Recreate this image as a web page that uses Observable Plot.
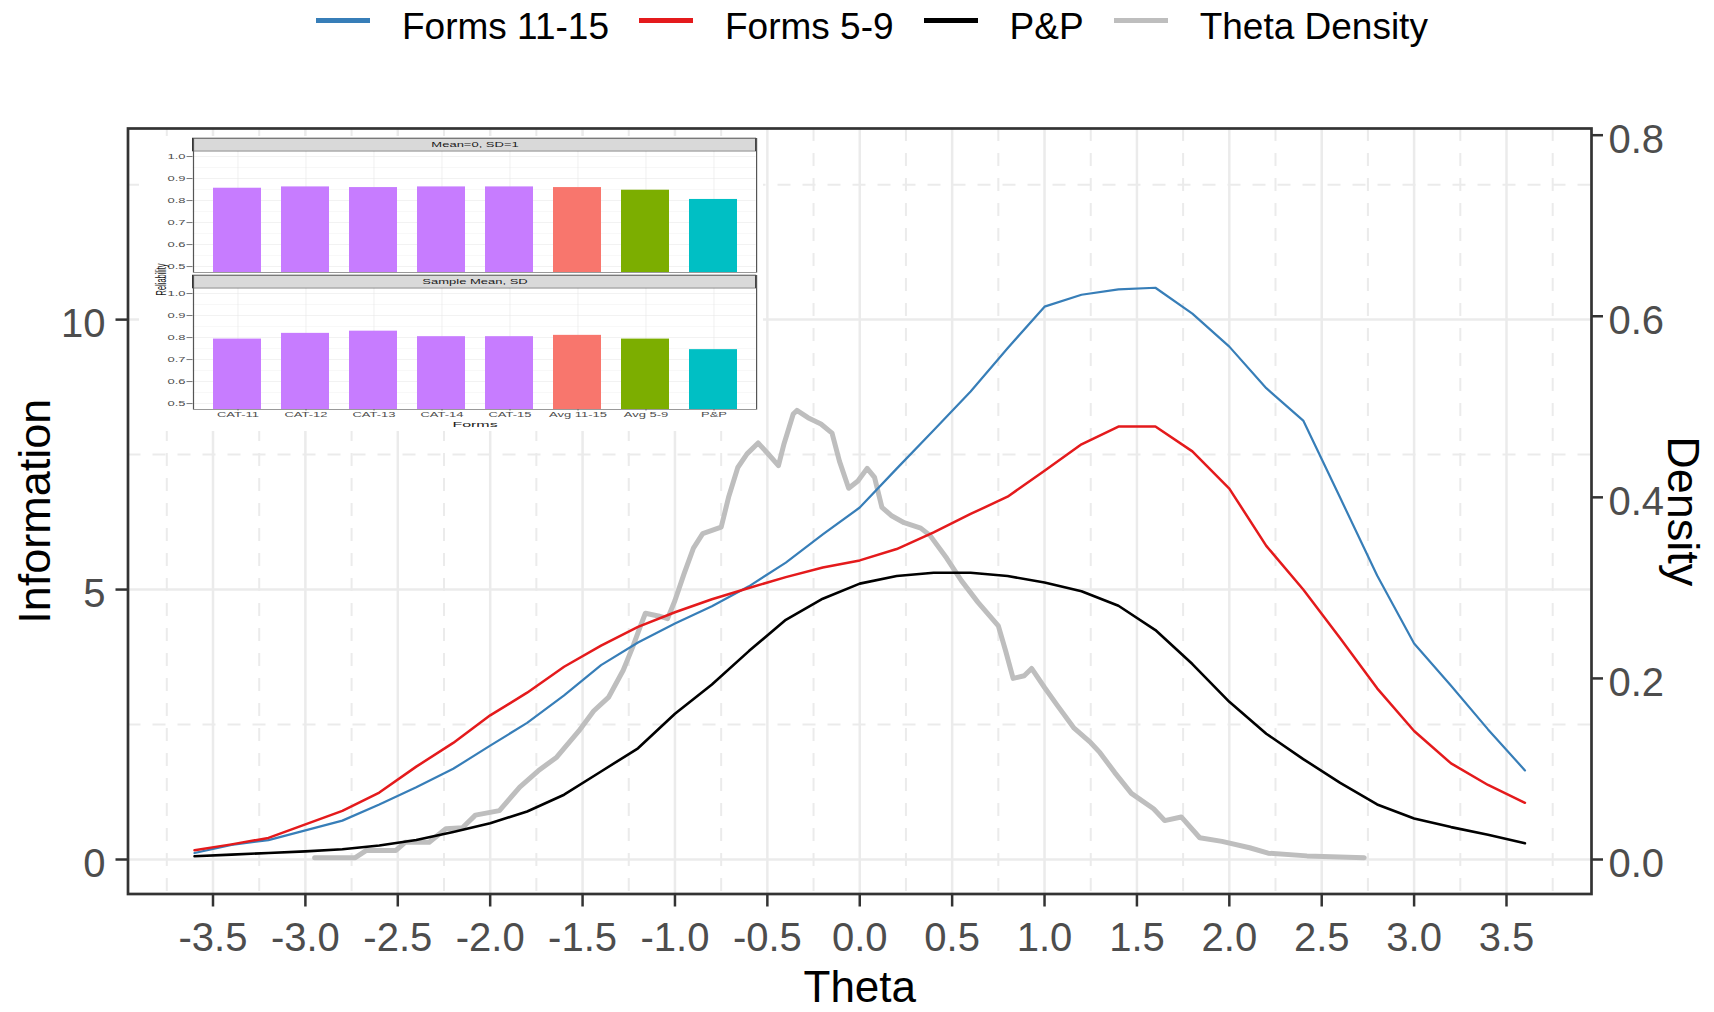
<!DOCTYPE html>
<html>
<head>
<meta charset="utf-8">
<script src="https://cdn.jsdelivr.net/npm/d3@7"></script>
<script src="https://cdn.jsdelivr.net/npm/@observablehq/plot@0.6"></script>
<style>
  body { margin: 0; background: #fff; font-family: "Liberation Sans", Arial, sans-serif; }
  #wrap { position: relative; width: 1714px; height: 1012px; overflow: hidden; background: #fff; }
  #legend { position: absolute; left: 316px; top: 7.6px; display: flex; align-items: flex-start; font-size: 37px; line-height: 37px; color: #000; white-space: nowrap; }
  #legend .sw { width: 54px; height: 5px; margin-top: 10.5px; margin-right: 32px; }
  #legend .lab { margin-right: 30px; }
  #main { position: absolute; left: 0; top: 80px; }
  #inset { position: absolute; left: 139px; top: 136px; width: 311.5px; height: 295px; background: #fff; transform: scaleX(2); transform-origin: 0 0; }
  #inset svg { display: block; }
</style>
</head>
<body>
<div id="wrap">
  <div id="legend"></div>
  <div id="main"></div>
  <div id="inset"></div>
</div>
<script>
// ---------------- data ----------------
const seriesNames = ["Forms 11-15", "Forms 5-9", "P&P", "Theta Density"];
const seriesColors = ["#377EB8", "#E41A1C", "#000000", "#BEBEBE"];

const theta = [-3.6,-3.4,-3.2,-3.0,-2.8,-2.6,-2.4,-2.2,-2.0,-1.8,-1.6,-1.4,-1.2,-1.0,-0.8,-0.6,-0.4,-0.2,0.0,
               0.2,0.4,0.6,0.8,1.0,1.2,1.4,1.6,1.8,2.0,2.2,2.4,2.6,2.8,3.0,3.2,3.4,3.6];
const forms1115 = [0.12,0.27,0.36,0.54,0.72,1.02,1.34,1.68,2.11,2.53,3.04,3.60,4.02,4.37,4.69,5.06,5.50,6.02,6.52,
                   7.24,7.95,8.67,9.47,10.24,10.46,10.56,10.59,10.11,9.50,8.73,8.13,6.70,5.26,4.00,3.22,2.41,1.65];
const forms59   = [0.17,0.28,0.40,0.65,0.90,1.24,1.72,2.16,2.67,3.09,3.57,3.96,4.31,4.58,4.82,5.03,5.23,5.41,5.54,
                   5.75,6.06,6.40,6.72,7.20,7.69,8.02,8.02,7.56,6.87,5.81,5.00,4.10,3.17,2.38,1.78,1.38,1.05];
const pp        = [0.06,0.09,0.12,0.15,0.19,0.26,0.36,0.51,0.67,0.89,1.20,1.63,2.06,2.70,3.24,3.86,4.44,4.83,5.11,
                   5.25,5.31,5.31,5.25,5.13,4.97,4.70,4.25,3.62,2.92,2.33,1.86,1.42,1.02,0.76,0.60,0.46,0.30];

const densTheta = [-2.95,-2.73,-2.67,-2.51,-2.46,-2.33,-2.24,-2.15,-2.08,-1.95,-1.84,-1.74,-1.64,-1.52,-1.44,-1.36,
                   -1.28,-1.23,-1.19,-1.16,-1.09,-1.04,-1.00,-0.95,-0.90,-0.85,-0.75,-0.71,-0.66,-0.61,-0.55,-0.50,
                   -0.44,-0.41,-0.36,-0.34,-0.28,-0.21,-0.15,-0.11,-0.06,-0.01,0.04,0.08,0.12,0.17,0.24,0.33,0.38,
                   0.47,0.55,0.64,0.75,0.79,0.83,0.89,0.93,1.00,1.07,1.16,1.25,1.30,1.38,1.47,1.59,1.65,1.74,1.84,
                   1.96,2.11,2.21,2.42,2.73];
const densValue = [0.002,0.002,0.010,0.010,0.019,0.019,0.034,0.035,0.049,0.054,0.080,0.098,0.113,0.142,0.164,0.179,
                   0.209,0.234,0.256,0.272,0.269,0.266,0.286,0.316,0.344,0.360,0.367,0.400,0.433,0.448,0.460,0.449,
                   0.435,0.459,0.492,0.496,0.488,0.481,0.471,0.440,0.410,0.418,0.432,0.422,0.389,0.380,0.372,0.366,0.358,
                   0.333,0.308,0.284,0.258,0.230,0.200,0.203,0.211,0.190,0.170,0.145,0.129,0.118,0.096,0.073,0.056,0.043,0.047,0.024,
                   0.020,0.013,0.007,0.004,0.002];

const DENS_TO_INFO = 16.77;   // secondary axis: Information units per Density unit

const xTicks = [-3.5,-3.0,-2.5,-2.0,-1.5,-1.0,-0.5,0.0,0.5,1.0,1.5,2.0,2.5,3.0,3.5];
const xMinor = [-3.75,-3.25,-2.75,-2.25,-1.75,-1.25,-0.75,-0.25,0.25,0.75,1.25,1.75,2.25,2.75,3.25,3.75];
const infoTicks = [0, 5, 10];
const infoMinor = [2.5, 7.5, 12.5];
const densTicks = [0.0, 0.2, 0.4, 0.6, 0.8];

// inset (reliability bar chart)
const forms = ["CAT-11","CAT-12","CAT-13","CAT-14","CAT-15","Avg 11-15","Avg 5-9","P&P"];
const formGroup = ["CAT","CAT","CAT","CAT","CAT","Avg 11-15","Avg 5-9","P&P"];
const groups = ["CAT","Avg 11-15","Avg 5-9","P&P"];
const groupColors = ["#C77CFF","#F8766D","#7CAE00","#00BFC4"];
const panelTitles = ["Mean=0, SD=1", "Sample Mean, SD"];
const relMean0  = [0.856,0.862,0.859,0.862,0.862,0.859,0.847,0.805];
const relSample = [0.793,0.819,0.829,0.804,0.804,0.810,0.793,0.745];
const relTicks = [0.5,0.6,0.7,0.8,0.9,1.0];
const relMinor = [0.55,0.65,0.75,0.85,0.95];

const FONT = "'Liberation Sans', Arial, Helvetica, sans-serif";

// ---------------- legend ----------------
const legend = document.getElementById("legend");
seriesNames.forEach((name, i) => {
  const sw = document.createElement("div");
  sw.className = "sw"; sw.style.background = seriesColors[i];
  const lab = document.createElement("div");
  lab.className = "lab"; lab.textContent = name;
  legend.appendChild(sw); legend.appendChild(lab);
});

// ---------------- main chart ----------------
const infoRows = [];
[forms1115, forms59, pp].forEach((vals, s) => {
  theta.forEach((t, i) => infoRows.push({theta: t, info: vals[i], series: seriesNames[s]}));
});
const densRows = densTheta.map((t, i) => ({theta: t, density: densValue[i]}));

const main = Plot.plot({
  width: 1714,
  height: 932,
  marginLeft: 127.5,
  marginRight: 123,
  marginTop: 48,
  marginBottom: 118.5,
  x: {domain: [-3.96, 3.96]},
  y: {domain: [-0.639, 13.54]},
  style: {fontFamily: FONT, background: "transparent", overflow: "visible"},
  marks: [
    Plot.ruleX(xMinor, {stroke: "#EBEBEB", strokeWidth: 2, strokeDasharray: "13,12"}),
    Plot.ruleY(infoMinor, {stroke: "#EBEBEB", strokeWidth: 2, strokeDasharray: "13,12"}),
    Plot.ruleX(xTicks, {stroke: "#EBEBEB", strokeWidth: 2.5}),
    Plot.ruleY(infoTicks, {stroke: "#EBEBEB", strokeWidth: 2.5}),
    Plot.line(densRows, {x: "theta", y: d => d.density * DENS_TO_INFO, stroke: seriesColors[3], strokeWidth: 5, strokeLinejoin: "round"}),
    Plot.line(infoRows.filter(d => d.series === seriesNames[0]), {x: "theta", y: "info", stroke: seriesColors[0], strokeWidth: 2.2}),
    Plot.line(infoRows.filter(d => d.series === seriesNames[1]), {x: "theta", y: "info", stroke: seriesColors[1], strokeWidth: 2.5}),
    Plot.line(infoRows.filter(d => d.series === seriesNames[2]), {x: "theta", y: "info", stroke: seriesColors[2], strokeWidth: 2.6}),
    Plot.frame({stroke: "#333333", strokeWidth: 2.7}),
    // ticks
    Plot.axisX(xTicks, {tickSize: 13, tickFormat: () => "", color: "#333333", strokeWidth: 2.5, label: null}),
    Plot.axisY(infoTicks, {anchor: "left", tickSize: 12, tickFormat: () => "", color: "#333333", strokeWidth: 2.5, label: null}),
    Plot.axisY(densTicks.map(d => d * DENS_TO_INFO), {anchor: "right", tickSize: 11, tickFormat: () => "", color: "#333333", strokeWidth: 2.5, label: null}),
    // tick labels
    Plot.axisX(xTicks, {tickSize: 0, tickPadding: 28.5, tickFormat: d => d.toFixed(1), fontSize: 40, color: "#4D4D4D", label: null}),
    Plot.axisY(infoTicks, {anchor: "left", tickSize: 0, tickPadding: 22.5, tickFormat: d => String(d), fontSize: 40, color: "#4D4D4D", dy: 5, label: null}),
    Plot.axisY(densTicks.map(d => d * DENS_TO_INFO), {anchor: "right", tickSize: 0, tickPadding: 17, tickFormat: d => (d / DENS_TO_INFO).toFixed(1), fontSize: 40, color: "#4D4D4D", dy: 5, label: null}),
    // titles
    Plot.text(["Theta"], {frameAnchor: "bottom", dy: 108, lineAnchor: "bottom", textAnchor: "middle", fontSize: 44, fill: "#000"}),
    Plot.text(["Information"], {frameAnchor: "left", dx: -78.5, rotate: -90, lineAnchor: "bottom", textAnchor: "middle", fontSize: 45, fill: "#000"}),
    Plot.text(["Density"], {frameAnchor: "right", dx: 76, rotate: 90, lineAnchor: "bottom", textAnchor: "middle", fontSize: 45, fill: "#000"})
  ]
});
document.getElementById("main").appendChild(main);

// ---------------- inset ----------------
const REL_MIN = 0.473, PANEL_TOP = 1.0227, STRIP_TOP = 1.082;
function insetPanel(values, title, isBottom, h) {
  const rows = forms.map((f, i) => ({form: f, group: formGroup[i], value: values[i]}));
  return Plot.plot({
    width: 311.5,
    height: h,
    marginLeft: 26.75,
    marginRight: 3.2,
    marginTop: 2,
    marginBottom: h - 136,
    x: {type: "band", domain: forms, paddingInner: 0.3, paddingOuter: 0.25, axis: null},
    y: {domain: [REL_MIN, STRIP_TOP], axis: null},
    color: {domain: groups, range: groupColors},
    style: {fontFamily: FONT, fontSize: "6.5px", background: "transparent", overflow: "visible"},
    marks: [
      Plot.ruleY(relMinor, {stroke: "#F2F2F2", strokeWidth: 0.4}),
      Plot.ruleY(relTicks, {stroke: "#E6E6E6", strokeWidth: 0.6}),
      Plot.ruleX(forms, {stroke: "#E6E6E6", strokeWidth: 0.4}),
      Plot.barY(rows, {x: "form", y: "value", fill: "group", clip: true}),
      Plot.rect([title], {y1: PANEL_TOP, y2: STRIP_TOP, fill: "#D9D9D9", stroke: "#333333", strokeWidth: 0.5}),
      Plot.text([title], {y: (PANEL_TOP + STRIP_TOP) / 2, frameAnchor: "middle", fontSize: 6.5, fill: "#1A1A1A"}),
      Plot.frame({stroke: "#555555", strokeWidth: 0.6}),
      Plot.axisY(relTicks, {anchor: "left", tickSize: 3, tickPadding: 1, tickFormat: d => d.toFixed(1), fontSize: 6.5, color: "#4D4D4D", strokeWidth: 0.5, label: null}),
      isBottom ? Plot.axisX(forms, {tickSize: 1.5, tickPadding: 1.5, fontSize: 6.5, color: "#4D4D4D", strokeWidth: 0.5, label: null}) : null,
      isBottom ? Plot.text(["Forms"], {frameAnchor: "bottom", dy: 17.5, lineAnchor: "bottom", textAnchor: "middle", fontSize: 8, fill: "#1A1A1A"}) : null,
      isBottom ? Plot.text(["Reliability"], {frameAnchor: "top-left", dx: -19.25, dy: 4, rotate: -90, textAnchor: "middle", fontSize: 7.5, fill: "#1A1A1A"}) : null
    ].filter(Boolean)
  });
}
const inset = document.getElementById("inset");
inset.appendChild(insetPanel(relMean0, panelTitles[0], false, 137));
inset.appendChild(insetPanel(relSample, panelTitles[1], true, 158));
</script>
</body>
</html>
